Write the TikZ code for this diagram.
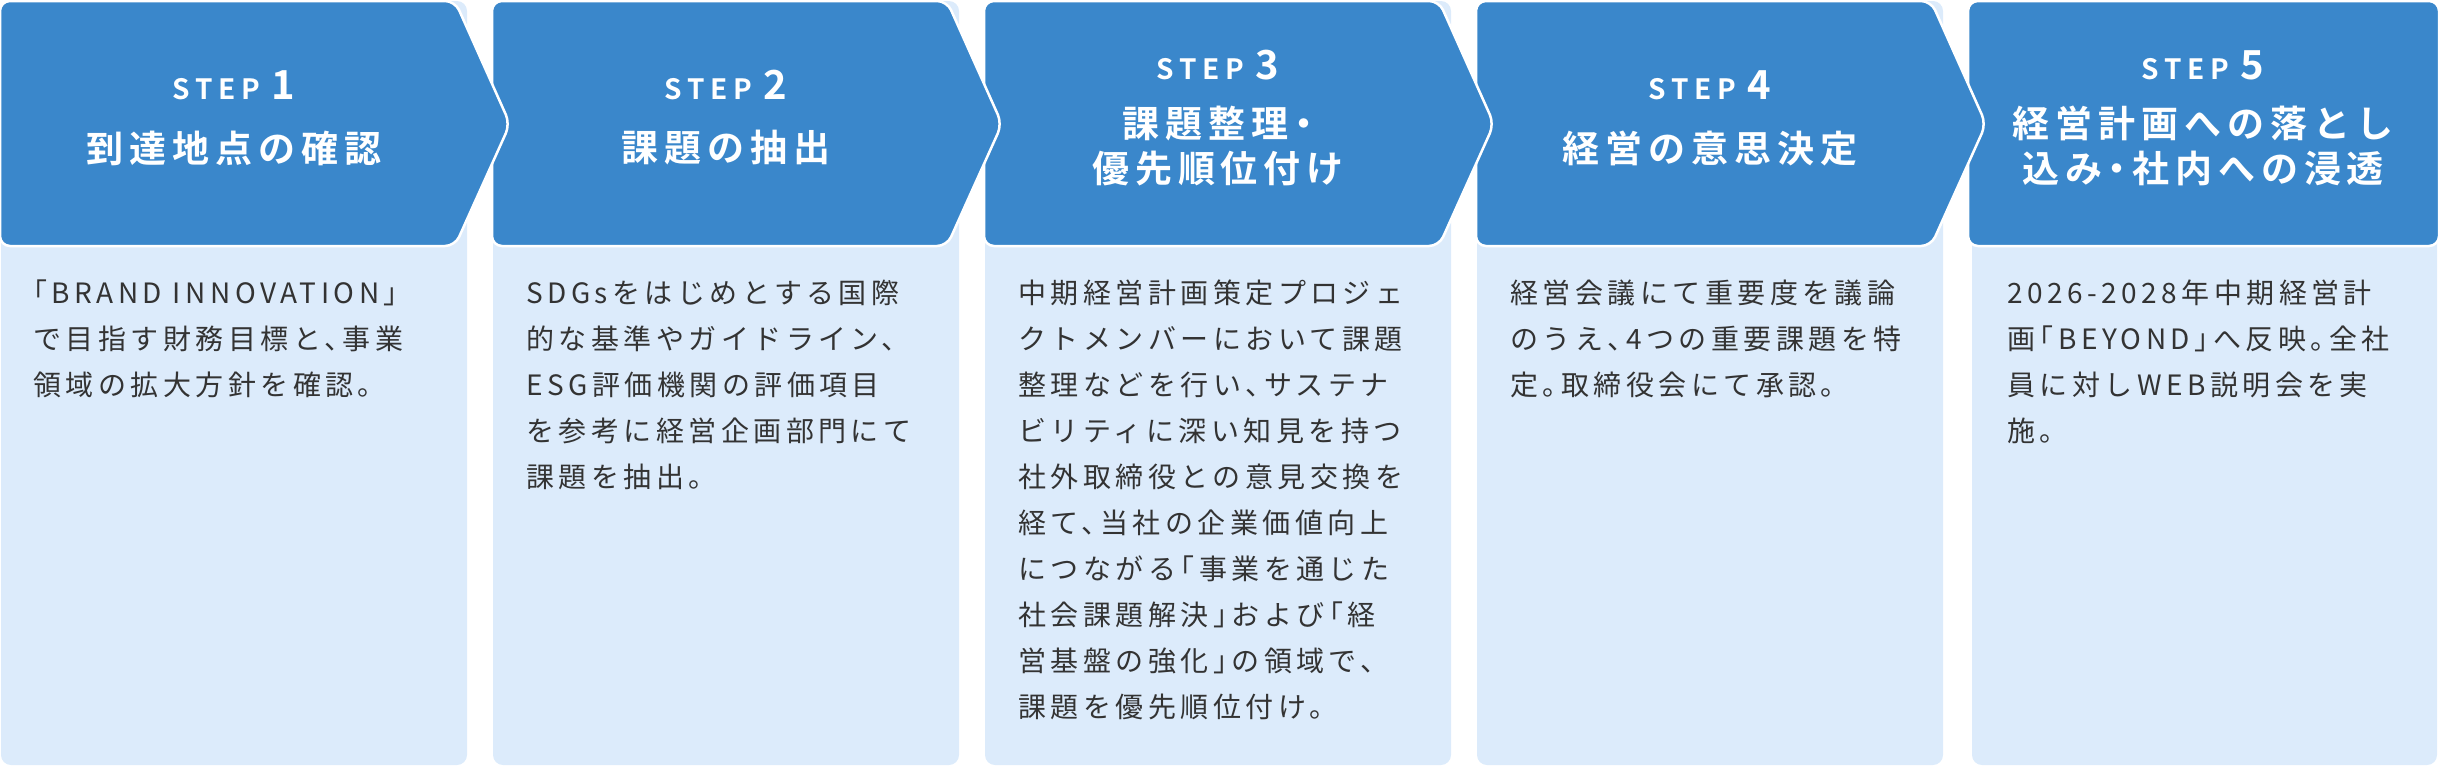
\documentclass[tikz,border=0pt]{standalone}
\usepackage{fontspec}
\setmainfont{Noto Sans CJK JP}[BoldFont={Noto Sans CJK JP Bold},RawFeature={+halt}]
\definecolor{hdr}{HTML}{3A87CB}
\definecolor{lite}{HTML}{DCEBFB}
\definecolor{ink}{HTML}{333333}
\begin{document}
\begin{tikzpicture}[x=1pt,y=-1pt,
  body/.style={anchor=north west,align=left,text=ink,inner sep=0pt,
    font=\fontsize{28}{46}\selectfont\addfontfeature{LetterSpace=16}},
  stp/.style={text=white,inner sep=0pt,font=\bfseries\fontsize{28}{30}\selectfont\addfontfeature{LetterSpace=20}},
  ttl/.style={text=white,inner sep=0pt,align=center,font=\bfseries\fontsize{37}{45}\selectfont\addfontfeature{LetterSpace=16}},
  hd/.style={fill=hdr,draw=white,line width=2.5pt,rounded corners=10pt}]
\useasboundingbox (0,0) rectangle (2440,766);
% light boxes
\foreach \i in {0,...,3}{
  \fill[lite,rounded corners=10pt] ({\i*492+1},1) rectangle ({\i*492+467},765);
}
\fill[lite,rounded corners=10pt] (1972,1) rectangle (2437,765);
% headers, right to left
\draw[hd] (1968,1) rectangle (2439,246);
\foreach \i in {3,2,1,0}{
  \draw[hd] ({\i*492},1) -- ({\i*492+455},1) -- ({\i*492+510},124) -- ({\i*492+455},246) -- ({\i*492},246) -- cycle;
}
% header texts
\node[stp] (s1) at (234,85) {STEP \fontsize{40}{40}\selectfont 1};
\node[ttl] (t1) at (234,148) {到達地点の確認};
\node[stp] (s2) at (726,85) {STEP \fontsize{40}{40}\selectfont 2};
\node[ttl] (t2) at (726,148) {課題の抽出};
\node[stp] (s3) at (1218,65) {STEP \fontsize{40}{40}\selectfont 3};
\node[ttl] (t3) at (1218,146) {課題整理・\\優先順位付け};
\node[stp] (s4) at (1710,85) {STEP \fontsize{40}{40}\selectfont 4};
\node[ttl] (t4) at (1710,148) {経営の意思決定};
\node[stp] (s5) at (2203,65) {STEP \fontsize{40}{40}\selectfont 5};
\node[ttl] (t5) at (2203,146) {経営計画への落とし\\込み・社内への浸透};
% bodies
\node[body] (b1) at (33,280) {「BRAND INNOVATION」\\で目指す財務目標と、事業\\領域の拡大方針を確認。};
\node[body] (b2) at (526,280) {SDGsをはじめとする国際\\的な基準やガイドライン、\\ESG評価機関の評価項目\\を参考に経営企画部門にて\\課題を抽出。};
\node[body] (b3) at (1018,280) {中期経営計画策定プロジェ\\クトメンバーにおいて課題\\整理などを行い、サステナ\\ビリティに深い知見を持つ\\社外取締役との意見交換を\\経て、当社の企業価値向上\\につながる「事業を通じた\\社会課題解決」および「経\\営基盤の強化」の領域で、\\課題を優先順位付け。};
\node[body] (b4) at (1510,280) {経営会議にて重要度を議論\\のうえ、4つの重要課題を特\\定。取締役会にて承認。};
\node[body] (b5) at (2007,280) {2026-2028年中期経営計\\画「BEYOND」へ反映。全社\\員に対しWEB説明会を実\\施。};
\end{tikzpicture}
\end{document}
